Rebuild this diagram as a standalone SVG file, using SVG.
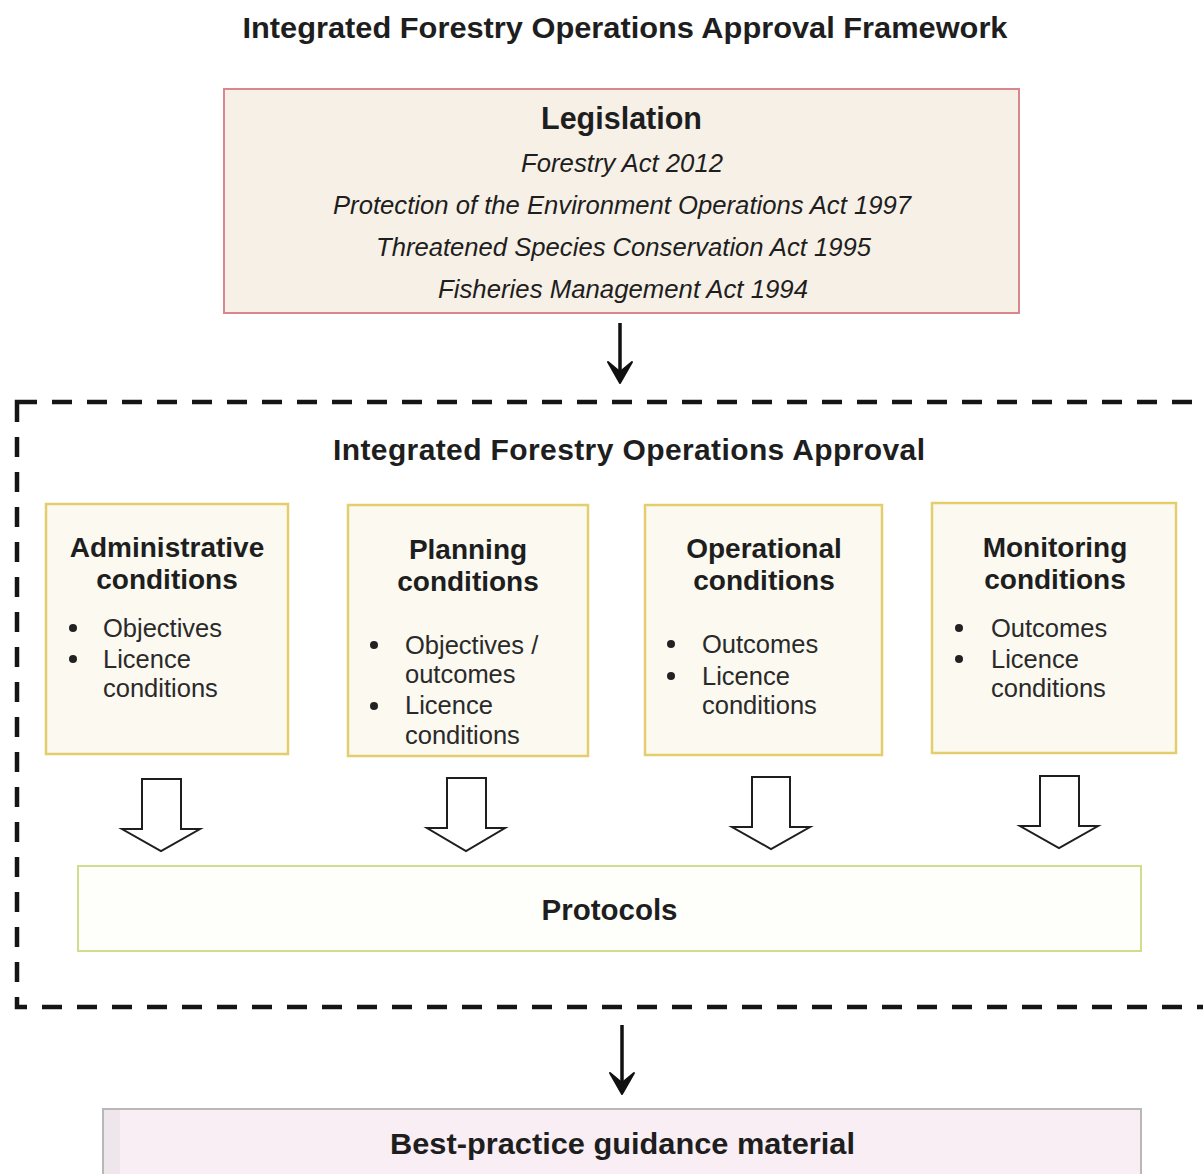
<svg xmlns="http://www.w3.org/2000/svg" width="1203" height="1174" viewBox="0 0 1203 1174">
  <style>
    .narrow { font-family: "Liberation Sans Narrow", "Liberation Sans", Arial, sans-serif; font-stretch: condensed; fill: #1e1e1e; }
    .hb { font-family: "Liberation Sans", Arial, sans-serif; font-weight: bold; fill: #1e1e1e; }
    .body { font-family: "Liberation Sans", Arial, sans-serif; font-size: 25.5px; fill: #2a2a2a; }
    .cond { fill: #fbf9f0; stroke: #e4cd6c; stroke-width: 2.5; }
    .dot { fill: #222; }
    .block { fill: #ffffff; stroke: #1e1e1e; stroke-width: 2; stroke-linejoin: miter; }
    .thin { fill: none; stroke: #111; stroke-width: 3.5; }
  </style>
  <rect width="1203" height="1174" fill="#ffffff"/>

  <text id="title" class="narrow" x="625" y="38" font-size="29" font-weight="bold" text-anchor="middle" textLength="765" lengthAdjust="spacingAndGlyphs">Integrated Forestry Operations Approval Framework</text>

  <g id="legislation">
    <rect x="224" y="89" width="795" height="224" fill="#f7f0e6" stroke="#d8878e" stroke-width="2"/>
    <text class="narrow" x="621.5" y="129" font-size="31" font-weight="bold" text-anchor="middle" textLength="161" lengthAdjust="spacingAndGlyphs">Legislation</text>
    <text class="narrow" x="622" y="172" font-size="25" font-style="italic" text-anchor="middle" textLength="202" lengthAdjust="spacingAndGlyphs">Forestry Act 2012</text>
    <text class="narrow" x="622" y="214" font-size="25" font-style="italic" text-anchor="middle" textLength="578" lengthAdjust="spacingAndGlyphs">Protection of the Environment Operations Act 1997</text>
    <text class="narrow" x="623.5" y="256" font-size="25" font-style="italic" text-anchor="middle" textLength="495" lengthAdjust="spacingAndGlyphs">Threatened Species Conservation Act 1995</text>
    <text class="narrow" x="623" y="298" font-size="25" font-style="italic" text-anchor="middle" textLength="370" lengthAdjust="spacingAndGlyphs">Fisheries Management Act 1994</text>
  </g>

  <g id="ifoa">
    <rect x="17" y="402" width="1190" height="605" fill="none" stroke="#151515" stroke-width="4.5" stroke-dasharray="20 15"/>
    <text class="hb" x="629" y="460" font-size="30" text-anchor="middle" textLength="592" lengthAdjust="spacing">Integrated Forestry Operations Approval</text>
  </g>

  <g id="administrative">
    <rect class="cond" x="46" y="504" width="242" height="250"/>
    <text class="hb" x="167" y="557" font-size="28" text-anchor="middle">Administrative</text>
    <text class="hb" x="167" y="589" font-size="28" text-anchor="middle">conditions</text>
    <circle class="dot" cx="73" cy="628" r="4"/>
    <circle class="dot" cx="73" cy="659" r="4"/>
    <text class="body" x="103" y="637">Objectives</text>
    <text class="body" x="103" y="668">Licence</text>
    <text class="body" x="103" y="697">conditions</text>
  </g>

  <g id="planning">
    <rect class="cond" x="348" y="505" width="240" height="251"/>
    <text class="hb" x="468" y="559" font-size="28" text-anchor="middle">Planning</text>
    <text class="hb" x="468" y="591" font-size="28" text-anchor="middle">conditions</text>
    <circle class="dot" cx="374" cy="645" r="4"/>
    <circle class="dot" cx="374" cy="706" r="4"/>
    <text class="body" x="405" y="654">Objectives /</text>
    <text class="body" x="405" y="683">outcomes</text>
    <text class="body" x="405" y="714">Licence</text>
    <text class="body" x="405" y="744">conditions</text>
  </g>

  <g id="operational">
    <rect class="cond" x="645" y="505" width="237" height="250"/>
    <text class="hb" x="764" y="558" font-size="28" text-anchor="middle">Operational</text>
    <text class="hb" x="764" y="590" font-size="28" text-anchor="middle">conditions</text>
    <circle class="dot" cx="671" cy="644" r="4"/>
    <circle class="dot" cx="671" cy="676" r="4"/>
    <text class="body" x="702" y="653">Outcomes</text>
    <text class="body" x="702" y="685">Licence</text>
    <text class="body" x="702" y="714">conditions</text>
  </g>

  <g id="monitoring">
    <rect class="cond" x="932" y="503" width="244" height="250"/>
    <text class="hb" x="1055" y="557" font-size="28" text-anchor="middle">Monitoring</text>
    <text class="hb" x="1055" y="589" font-size="28" text-anchor="middle">conditions</text>
    <circle class="dot" cx="959" cy="628" r="4"/>
    <circle class="dot" cx="959" cy="659" r="4"/>
    <text class="body" x="991" y="637">Outcomes</text>
    <text class="body" x="991" y="668">Licence</text>
    <text class="body" x="991" y="697">conditions</text>
  </g>

  <g id="protocols">
    <rect x="78" y="866" width="1063" height="85" fill="#fefefa" stroke="#d2dc8c" stroke-width="2"/>
    <text class="hb" x="609.5" y="920" font-size="29.5" text-anchor="middle">Protocols</text>
  </g>

  <g id="best-practice">
    <rect x="103" y="1109" width="1038" height="80" fill="#f8eef4" stroke="#b8b8b8" stroke-width="2"/>
    <rect x="104" y="1110" width="16" height="78" fill="#efe6ec"/>
    <text class="narrow" x="622.5" y="1154" font-size="29" font-weight="bold" text-anchor="middle" textLength="465" lengthAdjust="spacingAndGlyphs">Best-practice guidance material</text>
  </g>

  <g id="connectors">
    <line class="thin" x1="620" y1="323" x2="620" y2="376"/>
    <polygon points="608,362 620,383 632,362 620,372" fill="#111" stroke="#111" stroke-width="2" stroke-linejoin="round"/>
    <line class="thin" x1="622" y1="1025" x2="622" y2="1088"/>
    <polygon points="610,1073 622,1094 634,1073 622,1083" fill="#111" stroke="#111" stroke-width="2" stroke-linejoin="round"/>
    <path class="block" d="M142,779 H181 V829 H200 L161,851 L122,829 H142 Z"/>
    <path class="block" d="M447,778 H486 V828 H505 L466,851 L427,828 H447 Z"/>
    <path class="block" d="M752,777 H790 V827 H810 L771,849 L732,827 H752 Z"/>
    <path class="block" d="M1040,776 H1079 V826 H1098 L1059,848 L1020,826 H1040 Z"/>
  </g>
</svg>
